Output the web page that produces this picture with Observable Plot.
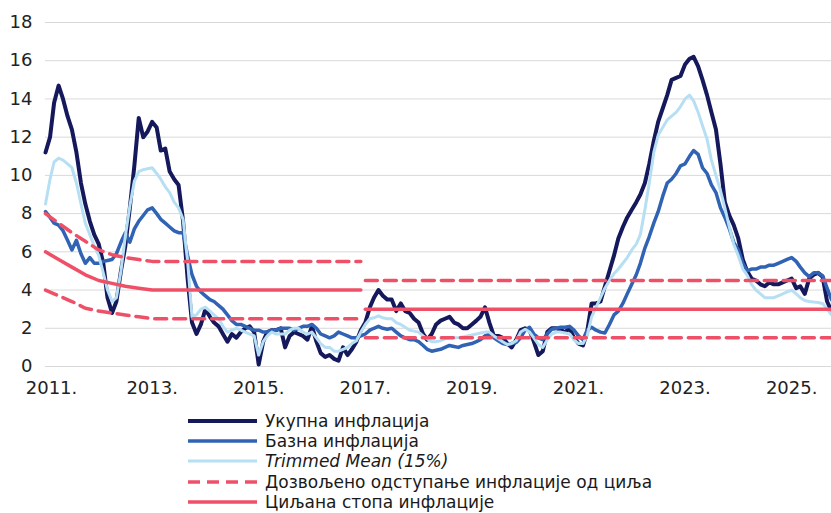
<!DOCTYPE html>
<html><head><meta charset="utf-8">
<script src="https://cdn.jsdelivr.net/npm/d3@7"></script>
<script src="https://cdn.jsdelivr.net/npm/@observablehq/plot@0.6"></script>
<style>
body{margin:0;background:#fff;font-family:"DejaVu Sans",sans-serif;overflow:hidden;}
#legend{margin-top:11px;padding-left:187px;font-size:17px;line-height:20px;color:#1a1a1a;}
.row{display:flex;align-items:center;height:20.2px;white-space:nowrap;}
.row svg{margin-right:7px;flex:none}
</style></head><body><div id="chart"></div><div id="legend"></div>
<script>
const startYear = 2011;
// Monthly y/y values, Jan 2011 – Oct 2025
const headline = [
11.2,12.0,13.8,14.7,14.0,13.1,12.4,11.2,9.6,8.5,7.6,6.9,
6.4,5.4,3.6,2.8,3.4,5.0,6.3,8.3,10.5,13.0,12.0,12.3,
12.8,12.5,11.3,11.4,10.2,9.8,9.5,7.6,4.6,2.3,1.7,2.2,
3.0,2.6,2.3,2.1,1.7,1.3,1.7,1.5,1.8,2.0,2.1,1.8,
0.1,1.3,1.8,1.9,1.9,2.0,1.0,1.6,1.8,1.7,1.6,1.4,
2.1,1.3,0.7,0.5,0.6,0.4,0.3,1.0,0.6,0.9,1.3,1.9,
2.3,3.1,3.6,4.0,3.7,3.5,3.5,2.9,3.3,2.9,2.8,2.5,
2.3,1.7,1.4,1.7,2.2,2.4,2.5,2.6,2.3,2.2,2.0,2.0,
2.2,2.4,2.6,3.1,2.3,1.6,1.6,1.5,1.2,1.0,1.4,1.9,
2.0,1.9,1.3,0.6,0.8,1.8,2.0,2.0,1.9,1.8,2.0,1.5,
1.2,1.1,1.8,3.3,3.3,3.4,4.2,5.0,5.8,6.7,7.3,7.8,
8.2,8.6,9.0,9.6,10.6,11.8,12.8,13.5,14.2,15.0,15.1,15.2,
15.8,16.1,16.2,15.7,15.0,14.2,13.3,12.4,10.6,8.6,7.9,7.4,
6.7,5.6,5.0,4.6,4.5,4.3,4.2,4.4,4.3,4.3,4.4,4.5,
4.6,4.1,4.2,3.8,4.6,4.8,4.9,4.7,3.4,2.9
];
const core = [
8.1,7.8,7.5,7.4,7.1,6.6,6.1,6.6,5.9,5.4,5.7,5.4,
5.4,5.5,5.55,5.6,5.9,6.5,7.0,6.5,7.2,7.6,7.9,8.2,
8.3,8.0,7.7,7.5,7.3,7.1,7.0,7.0,5.8,4.8,4.2,3.9,
3.7,3.5,3.4,3.2,3.0,2.7,2.4,2.2,2.2,2.1,2.0,1.9,
1.9,1.8,1.8,1.9,1.9,2.0,2.0,2.0,1.9,2.0,2.1,2.1,
2.2,2.0,1.7,1.6,1.5,1.6,1.8,1.7,1.6,1.5,1.5,1.6,
1.7,1.9,2.0,2.1,2.0,1.95,2.0,1.8,1.6,1.5,1.4,1.4,
1.3,1.1,0.9,0.8,0.85,0.9,1.0,1.1,1.05,1.0,1.1,1.15,
1.2,1.3,1.4,1.6,1.7,1.5,1.35,1.2,1.15,1.2,1.25,1.5,
1.9,2.05,1.7,1.5,1.4,1.7,1.95,2.0,2.05,2.05,2.1,1.9,
1.6,1.4,1.9,2.05,1.9,1.8,1.75,2.2,2.7,2.9,3.3,3.8,
4.3,4.8,5.4,6.2,6.8,7.5,8.1,8.9,9.6,9.8,10.1,10.5,
10.6,11.0,11.3,11.1,10.4,10.1,9.5,9.1,8.3,7.8,7.2,6.5,
6.1,5.4,5.0,5.1,5.1,5.2,5.2,5.3,5.3,5.4,5.5,5.6,
5.7,5.5,5.2,4.9,4.7,4.9,4.9,4.75,4.1,3.5
];
const trimmed = [
8.5,9.8,10.7,10.9,10.8,10.6,10.4,9.6,8.5,7.5,6.9,6.3,
5.8,4.9,4.0,3.4,3.6,5.0,6.8,8.4,9.7,10.2,10.3,10.35,
10.4,10.1,9.8,9.4,9.1,8.6,8.3,7.7,5.5,2.6,2.7,3.0,
3.1,2.9,2.7,2.5,2.1,1.8,1.9,2.0,1.9,1.8,1.7,1.6,
0.6,1.3,1.6,1.8,1.7,1.7,1.7,1.9,2.0,2.0,1.8,1.7,
1.8,1.5,1.2,1.0,1.0,0.8,0.8,0.9,1.0,1.2,1.35,1.8,
2.2,2.5,2.55,2.65,2.55,2.5,2.5,2.3,2.2,2.05,1.9,1.85,
1.8,1.6,1.45,1.3,1.3,1.35,1.45,1.5,1.5,1.5,1.55,1.6,
1.65,1.7,1.75,1.8,1.8,1.6,1.45,1.3,1.15,1.2,1.35,1.8,
1.95,1.8,1.5,1.15,1.0,1.4,1.7,1.8,1.8,1.75,1.7,1.4,
1.2,1.2,1.6,2.6,3.1,3.6,4.1,4.5,4.85,5.1,5.4,5.7,
6.1,6.4,6.9,8.2,9.6,11.2,12.1,12.5,12.9,13.1,13.3,13.6,
14.0,14.2,13.9,13.3,12.6,11.9,10.8,10.0,9.2,8.3,7.3,6.4,
5.8,5.1,4.8,4.3,4.0,3.8,3.6,3.6,3.6,3.7,3.8,3.9,
4.0,3.8,3.6,3.45,3.4,3.37,3.35,3.3,3.0,2.7
];
// Target path and tolerance band (month index from Jan 2011)
const targetMonthsA = [0,3,6,9,12,15,18,21,24,71];
const targetA = [6.0,5.6,5.2,4.8,4.5,4.35,4.2,4.1,4.0,4.0];
const upperA  = [8.0,7.5,7.0,6.55,6.1,5.85,5.7,5.6,5.5,5.5];
const lowerA  = [4.0,3.7,3.4,3.05,2.9,2.8,2.7,2.6,2.5,2.5];
const targetMonthsB = [72,177];
const targetB = [3.0,3.0];
const upperB  = [4.5,4.5];
const lowerB  = [1.5,1.5];
const yTicks = [0,2,4,6,8,10,12,14,16,18];
const tickYears = [2011,2013,2015,2017,2019,2021,2023,2025];

const labels = {
  headline: "Укупна инфлација",
  core: "Базна инфлација",
  trimmed: "Trimmed Mean (15%)",
  band: "Дозвољено одступање инфлације од циља",
  target: "Циљана стопа инфлације"
};
const colors = {headline:"#15195c", core:"#3063b4", trimmed:"#b7dff3", red:"#ee5068"};

const md = i => new Date(Date.UTC(startYear, i, 1));
const series = arr => arr.map((v,i)=>({date: md(i), value: v}));
const seg = (months, vals, id) => months.map((m,i)=>({date: md(m), value: vals[i], seg: id}));

const bandRows = [...seg(targetMonthsA, upperA, "uA"), ...seg(targetMonthsA, lowerA, "lA"),
                  ...seg(targetMonthsB, upperB, "uB"), ...seg(targetMonthsB, lowerB, "lB")];
const targetRows = [...seg(targetMonthsA, targetA, "tA"), ...seg(targetMonthsB, targetB, "tB")];
const tickDates = tickYears.map(y => new Date(Date.UTC(y,0,1)));

const chart = Plot.plot({
  width: 831, height: 400,
  marginLeft: 45, marginRight: 0, marginTop: 22, marginBottom: 34,
  style: {fontFamily: "DejaVu Sans, sans-serif", color: "#222", background: "#fff"},
  x: {type: "utc", domain: [md(0), md(177)], label: null},
  y: {domain: [0, 18], label: null},
  marks: [
    Plot.gridY(yTicks, {stroke: "#d9d9d9", strokeOpacity: 1, strokeWidth: 1}),
    Plot.axisY(yTicks, {tickSize: 0, tickPadding: 13, fontSize: 18, label: null}),
    Plot.axisX(tickDates.slice(1), {tickSize: 0, tickPadding: 15, fontSize: 18, label: null,
      tickFormat: d => d.getUTCFullYear() + "."}),
    Plot.axisX(tickDates.slice(0,1), {tickSize: 0, tickPadding: 15, fontSize: 18, label: null, dx: 6,
      tickFormat: d => d.getUTCFullYear() + "."}),
    Plot.line(series(headline), {x: "date", y: "value", stroke: colors.headline, strokeWidth: 4, strokeLinejoin: "round"}),
    Plot.line(series(core), {x: "date", y: "value", stroke: colors.core, strokeWidth: 3.5, strokeLinejoin: "round"}),
    Plot.line(series(trimmed), {x: "date", y: "value", stroke: colors.trimmed, strokeWidth: 3, strokeLinejoin: "round"}),
    Plot.line(bandRows, {x: "date", y: "value", z: "seg", stroke: colors.red, strokeWidth: 3.5, strokeDasharray: "12,7"}),
    Plot.line(targetRows, {x: "date", y: "value", z: "seg", stroke: colors.red, strokeWidth: 3.5})
  ]
});
document.getElementById("chart").appendChild(chart);

const legendItems = [
  {key: "headline", color: colors.headline, w: 4, dash: null},
  {key: "core", color: colors.core, w: 3.5, dash: null},
  {key: "trimmed", color: colors.trimmed, w: 3, dash: null, italic: true},
  {key: "band", color: colors.red, w: 3.5, dash: "12,7"},
  {key: "target", color: colors.red, w: 3.5, dash: null}
];
const lg = d3.select("#legend");
legendItems.forEach(it => {
  const row = lg.append("div").attr("class", "row");
  const s = row.append("svg").attr("width", 71).attr("height", 20);
  s.append("line").attr("x1", 1).attr("x2", 70).attr("y1", 10).attr("y2", 10)
    .attr("stroke", it.color).attr("stroke-width", it.w)
    .attr("stroke-dasharray", it.dash);
  row.append("span").text(labels[it.key]).style("font-style", it.italic ? "italic" : "normal");
});
</script></body></html>
